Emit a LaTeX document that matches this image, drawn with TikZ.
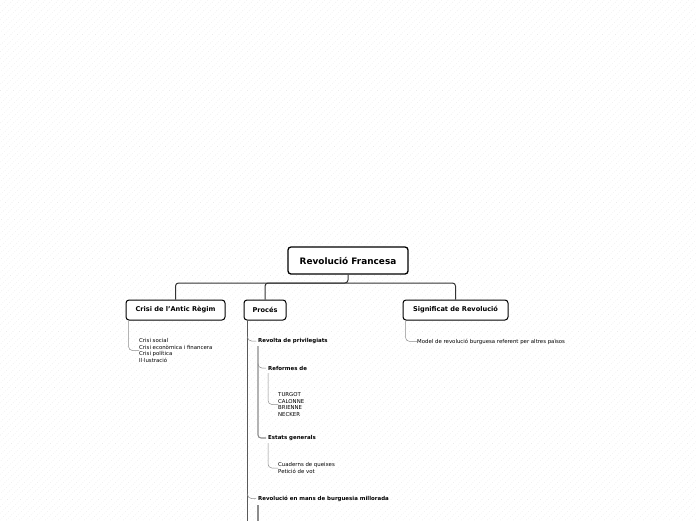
\documentclass[tikz,border=0pt]{standalone}
\usepackage{fontspec}
\setmainfont{DejaVu Sans}
\usepackage{tikz}
\usetikzlibrary{calc}

\begin{document}
\begin{tikzpicture}[x=1pt, y=-1pt,
    rootbox/.style={draw=black, line width=1.3pt, rounded corners=3pt, fill=white,
        font=\fontsize{8.9}{10}\selectfont\bfseries, minimum width=120pt, minimum height=27pt, inner sep=0pt},
    topicbox/.style={draw=black, line width=1pt, rounded corners=3pt, fill=white,
        font=\fontsize{6.6}{8}\selectfont\bfseries, minimum height=20pt, inner sep=0pt},
    subtopic/.style={anchor=west, inner sep=0pt, font=\fontsize{5.45}{6.5}\selectfont\bfseries},
    leaf/.style={anchor=north west, inner sep=0pt, align=left, font=\fontsize{5.4}{6.5}\selectfont},
    link/.style={draw=black!80, line width=1pt, rounded corners=3pt},
    spine/.style={draw=black!65, line width=1.8pt},
    subspine/.style={draw=black!45, line width=1.1pt, rounded corners=3pt},
    leafline/.style={draw=black!45, line width=0.5pt, rounded corners=4pt}]

    % background
    \useasboundingbox (0,0) rectangle (696,520);
    \fill[white] (0,0) rectangle (696,520);
    \begin{scope}
        \clip (0,0) rectangle (696,520);
        \foreach \i in {-520,-513.5,...,696} {
            \draw[black!12, line width=0.4pt, dotted] (\i,520) -- (\i+520,0);
        }
    \end{scope}

    % main topic
    \node[rootbox] (root) at (348,260.5) {Revolució Francesa};

    % topics
    \node[topicbox, minimum width=99pt] (crisi) at (175.5,310) {Crisi de l'Antic Règim};
    \node[topicbox, minimum width=42pt] (proces) at (265,310) {Procés};
    \node[topicbox, minimum width=105pt] (significat) at (455.5,310) {Significat de Revolució};

    \coordinate (fork) at (348,283);
    \draw[link] (root.south) -- (fork) -| (crisi.north);
    \draw[link] (fork) -| (proces.north);
    \draw[link] (fork) -| (significat.north);

    % Crisi de l'Antic Regim
    \node[leaf] (crisilist) at (139,338.5) {Crisi social\\Crisi econòmica i financera\\Crisi política\\Il·lustració};
    \draw[leafline] ($(crisi.south west)+(3,0)$) |- (crisilist.west);

    % Significat de Revolucio
    \node[leaf] (model) at (417,338.5) {Model de revolució burguesa referent per altres països};
    \draw[leafline] ($(significat.south west)+(3,0)$) |- (model.west);

    % Proces
    \coordinate (spinetop) at ($(proces.south west)+(4,0)$);
    \coordinate (spinebot) at (spinetop |- 0,522);
    \draw[spine] (spinetop) -- (spinebot);

    \node[subtopic] (revolta) at (258,341) {Revolta de privilegiats};
    \node[subtopic] (revolucio) at (258,498.5) {Revolució en mans de burguesia millorada};
    \draw[leafline] ($(spinetop |- revolta.west)+(0,-3)$) |- ([xshift=-2pt]revolta.west);
    \draw[leafline] ($(spinetop |- revolucio.west)+(0,-3)$) |- ([xshift=-2pt]revolucio.west);

    % Revolta de privilegiats
    \node[subtopic] (reformes) at (268,368) {Reformes de};
    \node[subtopic] (estats) at (268,438) {Estats generals};
    \draw[subspine] (258,346) |- ([xshift=-2pt]estats.west);
    \draw[leafline] (258,365) |- ([xshift=-2pt]reformes.west);

    \node[leaf] (ministres) at (278,392.5) {TURGOT\\CALONNE\\BRIENNE\\NECKER};
    \draw[leafline] (268,373) |- (ministres.west);

    \node[leaf] (cuaderns) at (278,462.5) {Cuaderns de queixes\\Petició de vot};
    \draw[leafline] (268,443) |- (cuaderns.west);

    % Revolucio en mans de burguesia millorada
    \draw[subspine] (258,505) -- (258,522);
\end{tikzpicture}
\end{document}
